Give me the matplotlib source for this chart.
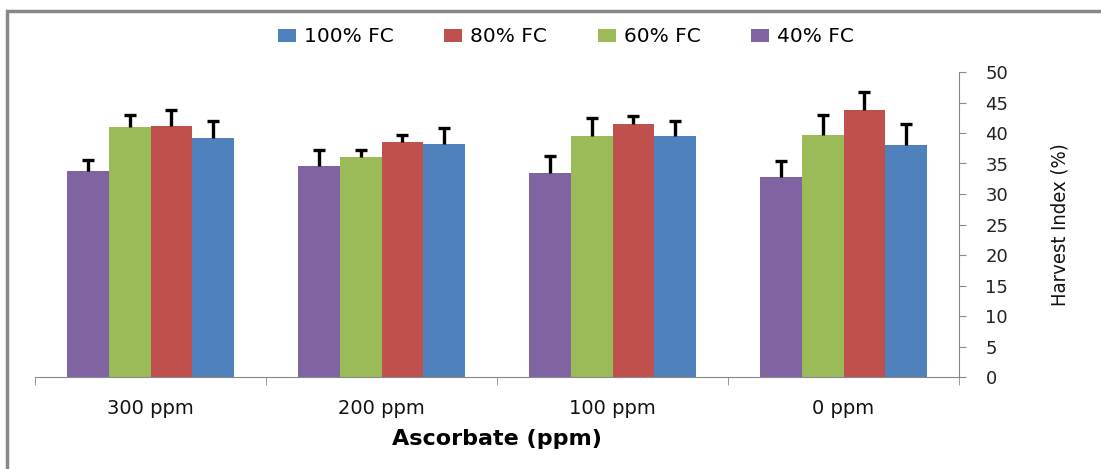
import matplotlib
matplotlib.use("Agg")
import matplotlib.pyplot as plt
import numpy as np
from matplotlib.patches import Rectangle

categories = ["300 ppm", "200 ppm", "100 ppm", "0 ppm"]
series_names = ["40% FC", "60% FC", "80% FC", "100% FC"]
values = {
    "40% FC": [33.8, 34.6, 33.4, 32.8],
    "60% FC": [41.0, 36.0, 39.5, 39.7],
    "80% FC": [41.2, 38.5, 41.4, 43.8],
    "100% FC": [39.1, 38.2, 39.5, 38.1],
}
errors = {
    "40% FC": [1.7, 2.6, 2.8, 2.6],
    "60% FC": [1.9, 1.2, 3.0, 3.2],
    "80% FC": [2.6, 1.2, 1.4, 3.0],
    "100% FC": [2.8, 2.6, 2.5, 3.3],
}
colors = {
    "40% FC": "#8064A2",
    "60% FC": "#9BBB59",
    "80% FC": "#C0504D",
    "100% FC": "#4F81BD",
}
legend_order = ["100% FC", "80% FC", "60% FC", "40% FC"]
yticks = [0, 5, 10, 15, 20, 25, 30, 35, 40, 45, 50]

W, H = 1101, 469
fig = plt.figure(figsize=(W / 100, H / 100), dpi=100)
ax = fig.add_axes([35 / W, 1 - 377 / H, (959 - 35) / W, (377 - 72) / H])

x = np.arange(len(categories))
bw = 0.18
handles = {}
for i, name in enumerate(series_names):
    pos = x + (i - 1.5) * bw
    b = ax.bar(pos, values[name], width=bw, color=colors[name], edgecolor="none",
               label=name, zorder=2)
    eb = ax.errorbar(pos, values[name], yerr=[np.zeros(len(x)), errors[name]], fmt="none",
                     ecolor="black", elinewidth=2.4, capsize=4.5, capthick=2.4, zorder=3)
    caplines = eb[1]
    if len(caplines) == 2:
        caplines[0].set_visible(False)
    handles[name] = b

ax.set_xlim(-0.5, len(categories) - 0.5)
ax.set_ylim(0, 50)
ax.set_yticks(yticks)
ax.yaxis.tick_right()
ax.yaxis.set_label_position("right")
ax.tick_params(axis="y", direction="out", length=5, color="#888888", labelsize=13,
               pad=14)
for lab in ax.get_yticklabels():
    lab.set_color("#222222")

ax.set_xticks(x)
ax.set_xticklabels(categories, fontsize=14, color="#111111")
ax.set_xticks(np.arange(-0.5, len(categories)), minor=True)
ax.tick_params(axis="x", which="major", length=0, pad=16)
ax.tick_params(axis="x", which="minor", length=6, color="#888888", direction="out")

for s in ["top", "left"]:
    ax.spines[s].set_visible(False)
ax.spines["right"].set_color("#888888")
ax.spines["bottom"].set_color("#888888")

ax.set_xlabel("Ascorbate (ppm)", fontsize=16, fontweight="bold", labelpad=8)
ax.set_ylabel("Harvest Index (%)", fontsize=14.5, labelpad=30, color="#111111",
              fontstretch="condensed")

leg = fig.legend([handles[n] for n in legend_order], legend_order, loc="center",
                 bbox_to_anchor=(566 / W, 1 - 37 / H), ncol=4, frameon=False,
                 fontsize=14.5, handlelength=0.9, handleheight=0.65, columnspacing=2.5,
                 handletextpad=0.4)

fig.patches.append(Rectangle((7 / W, -0.1), 1.2, 1 - 11 / H + 0.1,
                             transform=fig.transFigure, fill=False,
                             edgecolor="#888888", linewidth=2.5))

fig.savefig("out.png", dpi=100)
